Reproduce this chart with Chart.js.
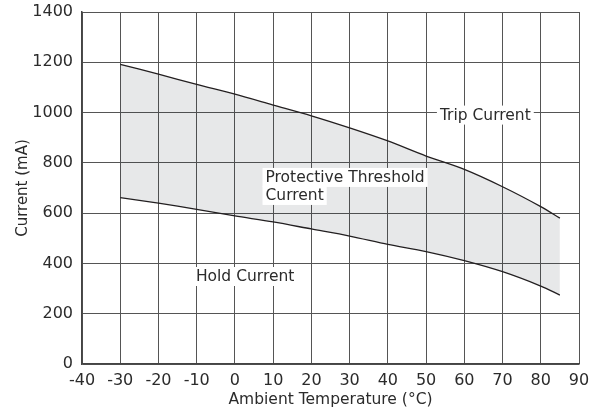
<!DOCTYPE html>
<html><head><meta charset="utf-8">
<script src="https://cdn.jsdelivr.net/npm/chart.js@4.4.1/dist/chart.umd.min.js"></script>
<style>html,body{margin:0;padding:0;background:#fff}#wrap{width:614px;height:414px}</style>
</head><body><div id="wrap"><canvas id="c" width="614" height="414"></canvas></div>
<script>
const temperatures = [-30, -20, -10, 0, 10, 20, 30, 40, 50, 60, 70, 80, 85];
const tripCurrent  = [1192, 1153, 1112, 1073, 1030, 987, 939, 887, 827, 774, 705, 626, 580];
const holdCurrent  = [662, 640, 615, 589, 565, 537, 509, 476, 447, 411, 367, 310, 274];
const xTicks = [-40, -30, -20, -10, 0, 10, 20, 30, 40, 50, 60, 70, 80, 90];
const yTicks = [0, 200, 400, 600, 800, 1000, 1200, 1400];
const labels = [
  {lines: ['Trip Current'], x: 65.5, y: 988, align: 'center'},
  {lines: ['Protective Threshold', 'Current'], x: 8.0, y: 740, align: 'left'},
  {lines: ['Hold Current'], x: -10.2, y: 346, align: 'left'}
];
const FONT = '"DejaVu Sans", sans-serif';
const TXT = '#2b2b2b';

const labelPlugin = {
  id: 'labels',
  afterDatasetsDraw(chart) {
    const ctx = chart.ctx, xs = chart.scales.x, ys = chart.scales.y;
    ctx.save();
    ctx.font = '15.5px ' + FONT;
    ctx.textBaseline = 'middle';
    const lh = 18;
    labels.forEach(l => {
      const px = xs.getPixelForValue(l.x), py = ys.getPixelForValue(l.y);
      l.lines.forEach((t, i) => {
        const w = ctx.measureText(t).width;
        const left = l.align === 'center' ? px - w / 2 : px;
        const cy = py + i * lh;
        ctx.fillStyle = '#fff';
        ctx.fillRect(left - 3, cy - lh / 2 - 1, w + 6, lh + 1);
        ctx.fillStyle = TXT;
        ctx.textAlign = 'left';
        ctx.fillText(t, left, cy);
      });
    });
    ctx.restore();
  }
};

new Chart(document.getElementById('c'), {
  type: 'line',
  data: {
    datasets: [
      {label: 'Trip Current', data: temperatures.map((t, i) => ({x: t, y: tripCurrent[i]})),
       borderColor: '#231f20', borderWidth: 1.3, pointRadius: 0, fill: '+1', backgroundColor: 'rgba(40,45,55,0.11)', tension: 0.3},
      {label: 'Hold Current', data: temperatures.map((t, i) => ({x: t, y: holdCurrent[i]})),
       borderColor: '#231f20', borderWidth: 1.3, pointRadius: 0, fill: false, tension: 0.3}
    ]
  },
  options: {
    responsive: false, animation: false,
    layout: {padding: {left: 10, right: 35, top: 12, bottom: 5}},
    plugins: {legend: {display: false}, tooltip: {enabled: false}},
    scales: {
      x: {
        type: 'linear', min: -40, max: 90,
        afterBuildTicks: s => { s.ticks = xTicks.map(v => ({value: v})); },
        afterFit: s => { s.height = 45; s.paddingLeft = 0; s.paddingRight = 0; },
        grid: {color: '#555', lineWidth: 1, drawTicks: false},
        border: {color: '#444', width: 1.5},
        ticks: {color: TXT, font: {family: FONT, size: 16}, padding: 7, maxRotation: 0, autoSkip: false,
                callback: v => String(v)},
        title: {display: true, text: 'Ambient Temperature (°C)', color: TXT, font: {family: FONT, size: 15.5}, padding: {top: 0, bottom: 0}}
      },
      y: {
        type: 'linear', min: 0, max: 1400,
        afterBuildTicks: s => { s.ticks = yTicks.map(v => ({value: v})); },
        afterFit: s => { s.width = 72; s.paddingTop = 0; s.paddingBottom = 0; },
        grid: {color: '#555', lineWidth: 1, drawTicks: false},
        border: {color: '#444', width: 1.5},
        ticks: {color: TXT, font: {family: FONT, size: 16}, padding: 9, autoSkip: false,
                callback: v => String(v)},
        title: {display: true, text: 'Current (mA)', color: TXT, font: {family: FONT, size: 15}, padding: {bottom: 5}}
      }
    }
  },
  plugins: [labelPlugin]
});
</script>
</body></html>
